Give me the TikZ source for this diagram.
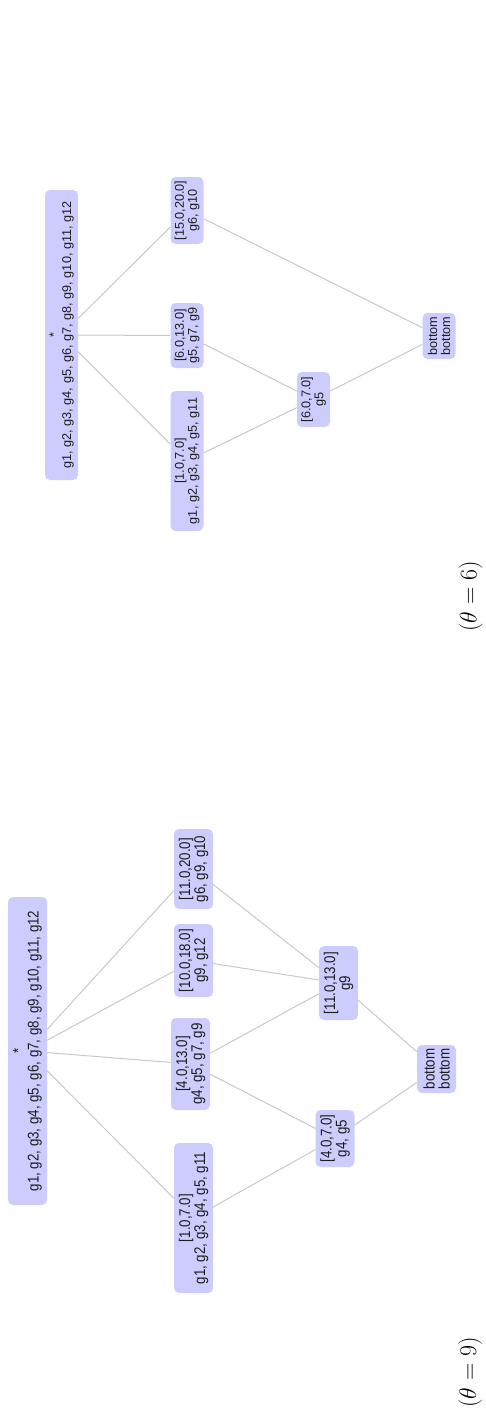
\documentclass[tikz,border=0pt]{standalone}
\usepackage{fix-cm}
\usepackage{fontspec}
\newfontfamily\boxfontA[FakeStretch=0.86]{Liberation Sans}
\newfontfamily\boxfontB{Liberation Sans}
\definecolor{boxfill}{RGB}{204,204,255}
\definecolor{edgegray}{RGB}{200,200,200}
\definecolor{txt}{RGB}{30,30,30}
\tikzset{
  box/.style={rotate=90, fill=boxfill, rounded corners=5pt, inner sep=0pt, align=center, text=txt},
  boxA/.style={box, font=\boxfontA\fontsize{15.5}{15}\selectfont, minimum height=39pt},
  boxB/.style={box, font=\boxfontB\fontsize{12.7}{13}\selectfont, minimum height=33pt},
  edge/.style={draw=edgegray, line width=1pt},
  caption/.style={rotate=90, inner sep=0pt, font=\fontsize{24}{28}\selectfont}
}
\begin{document}
\begin{tikzpicture}[x=1pt,y=-1pt]
\useasboundingbox (0,0) rectangle (485,1426);
% ---------------- theta = 6 ----------------
\node[boxB, minimum width=290pt] (R6) at (61.5,335) {*\\g1, g2, g3, g4, g5, g6, g7, g8, g9, g10, g11, g12};
\node[boxB, minimum width=67pt] (A6) at (187,210.5) {[15.0,20.0]\\g6, g10};
\node[boxB, minimum width=65pt] (B6) at (187,335.5) {[6.0,13.0]\\g5, g7, g9};
\node[boxB, minimum width=140pt] (C6) at (187,461) {[1.0,7.0]\\g1, g2, g3, g4, g5, g11};
\node[boxB, minimum width=55pt] (D6) at (313.5,399.5) {[6.0,7.0]\\g5};
\node[boxB, minimum width=46pt] (E6) at (439,336) {bottom\\bottom};
\node[caption] (cap6) at (470.5,596.5) {$(\theta = 6)$};
\draw[edge] (R6) -- (A6);
\draw[edge] (R6) -- (B6);
\draw[edge] (R6) -- (C6);
\draw[edge] (A6) -- (E6);
\draw[edge] (B6) -- (D6);
\draw[edge] (C6) -- (D6);
\draw[edge] (D6) -- (E6);
% ---------------- theta = 9 ----------------
\node[boxA, minimum width=308pt] (R9) at (27.5,1051) {*\\g1, g2, g3, g4, g5, g6, g7, g8, g9, g10, g11, g12};
\node[boxA, minimum width=80pt] (A9) at (193.5,869) {[11.0,20.0]\\g6, g9, g10};
\node[boxA, minimum width=73pt] (B9) at (193.5,960.5) {[10.0,18.0]\\g9, g12};
\node[boxA, minimum width=92pt] (C9) at (190.5,1064) {[4.0,13.0]\\g4, g5, g7, g9};
\node[boxA, minimum width=150pt] (D9) at (193.5,1218) {[1.0,7.0]\\g1, g2, g3, g4, g5, g11};
\node[boxA, minimum width=74pt] (E9) at (338.5,983) {[11.0,13.0]\\g9};
\node[boxA, minimum width=57pt] (F9) at (335,1138.5) {[4.0,7.0]\\g4, g5};
\node[boxA, minimum width=48pt] (G9) at (436.5,1069) {bottom\\bottom};
\node[caption] (cap9) at (470,1372.5) {$(\theta = 9)$};
\draw[edge] (R9) -- (A9);
\draw[edge] (R9) -- (B9);
\draw[edge] (R9) -- (C9);
\draw[edge] (R9) -- (D9);
\draw[edge] (A9) -- (E9);
\draw[edge] (B9) -- (E9);
\draw[edge] (C9) -- (E9);
\draw[edge] (C9) -- (F9);
\draw[edge] (D9) -- (F9);
\draw[edge] (E9) -- (G9);
\draw[edge] (F9) -- (G9);
\end{tikzpicture}
\end{document}
